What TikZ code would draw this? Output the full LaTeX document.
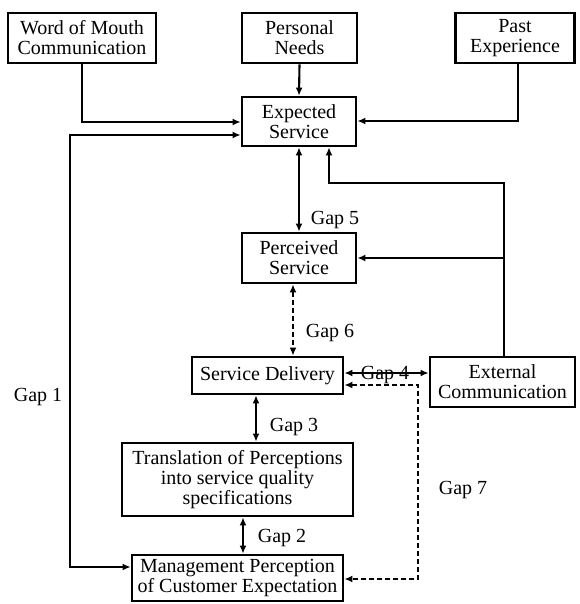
\documentclass[tikz,border=0pt]{standalone}
\usepackage{fontspec}
\setmainfont{Liberation Serif}
\usetikzlibrary{arrows.meta}
\begin{document}
\begin{tikzpicture}[x=1pt,y=-1pt,
  box/.style={draw,line width=2.8pt,inner sep=0pt,align=center,font=\fontsize{20}{20}\selectfont},
  lbl/.style={inner sep=0pt,font=\fontsize{20}{20}\selectfont},
  conn/.style={line width=2.1pt},
  arr/.style={conn,-{Latex[length=8pt,width=7pt]}},
  darr/.style={conn,{Latex[length=8pt,width=7pt]}-{Latex[length=8pt,width=7pt]}},
  dsh/.style={dash pattern=on 5pt off 3pt}]
\useasboundingbox (0,0) rectangle (579,604);
% boxes
\node[box,minimum width=148pt,minimum height=50pt] (wom) at (82,38) {Word of Mouth\\Communication};
\node[box,minimum width=115pt,minimum height=50pt] (pn) at (299.5,38) {Personal\\Needs};
\node[box,minimum width=119pt,minimum height=50pt] (pe) at (515,38) {Past\\Experience};
\node[box,minimum width=114pt,minimum height=49pt] (es) at (299,121.5) {Expected\\Service};
\node[box,minimum width=114pt,minimum height=50pt] (ps) at (299,258) {Perceived\\Service};
\node[box,minimum width=151pt,minimum height=37pt] (sd) at (267.5,375.5) {Service Delivery};
\node[box,minimum width=145pt,minimum height=50pt] (ec) at (502.5,382) {External\\Communication};
\node[box,minimum width=231pt,minimum height=73pt] (tr) at (237.5,479.5) {Translation of Perceptions\\into service quality\\specifications};
\node[box,minimum width=211pt,minimum height=46pt] (mp) at (237.5,578) {Management Perception\\of Customer Expectation};
% bend coordinates
\coordinate (w1) at (82,122);
\coordinate (p1) at (518,121);
\coordinate (g1a) at (70,135);
\coordinate (g1b) at (70,567);
\coordinate (e1) at (504,183);
\coordinate (e2) at (329,183);
\coordinate (e3) at (504,258);
\coordinate (g7a) at (418,385);
\coordinate (g7b) at (418,579);
% connectors
\draw[arr] (wom.south -| w1) -- (w1) -- (es.west |- w1);
\draw[arr] (pn.south) -- (es.north);
\draw[arr] (pe.south -| p1) -- (p1) -- (es.east |- p1);
\draw[darr] (es.west |- g1a) -- (g1a) -- (g1b) -- (mp.west |- g1b);
\draw[darr] (es.south) -- (ps.north);
\draw[arr] (ec.north -| e1) -- (e1) -- (e2) -- (es.south -| e2);
\draw[arr] (e3) -- (ps.east |- e3);
\draw[darr,dsh] (ps.south -| 293,0) -- (sd.north -| 293,0);
\draw[darr] (sd.east |- 0,373) -- (ec.west |- 0,373);
\draw[darr,dsh] (sd.east |- g7a) -- (g7a) -- (g7b) -- (mp.east |- g7b);
\draw[darr] (sd.south -| 256,0) -- (tr.north -| 256,0);
\draw[darr] (tr.south -| 243,0) -- (mp.north -| 243,0);
% gap labels
\node[lbl] (gap1) at (38,397) {Gap 1};
\node[lbl] (gap2) at (282,538) {Gap 2};
\node[lbl] (gap3) at (294,427) {Gap 3};
\node[lbl] (gap4) at (385,375) {Gap 4};
\node[lbl] (gap5) at (335,220) {Gap 5};
\node[lbl] (gap6) at (330,333) {Gap 6};
\node[lbl] (gap7) at (463,490) {Gap 7};
\end{tikzpicture}
\end{document}
